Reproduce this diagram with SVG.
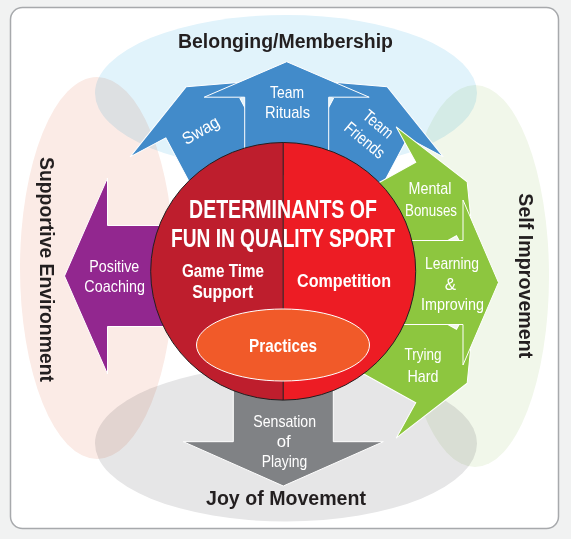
<svg xmlns="http://www.w3.org/2000/svg" xmlns:xlink="http://www.w3.org/1999/xlink" width="571" height="539" viewBox="0 0 571 539">
  <style>
    .bg-ell { mix-blend-mode: multiply; }
    .lbl { font-family: "Liberation Sans", Arial, sans-serif; font-weight: bold; font-size: 20px; fill: #231f20; text-anchor: middle; }
    .ttl { font-family: "Liberation Sans", Arial, sans-serif; font-weight: bold; font-size: 25px; fill: #ffffff; text-anchor: middle; }
    .sub { font-family: "Liberation Sans", Arial, sans-serif; font-weight: bold; font-size: 18px; fill: #ffffff; text-anchor: middle; }
    .arr { font-family: "Liberation Sans", Arial, sans-serif; font-size: 17px; fill: #ffffff; text-anchor: middle; }
    .wstroke { stroke: #ffffff; stroke-width: 1; }
  </style>
  <defs>
    <path id="arrowShape" d="M0,-214 L82.5,-178.5 L42,-178.5 L42,-100 L-42,-100 L-42,-178.5 L-82.5,-178.5 Z"/>
  </defs>

  <rect x="0" y="0" width="571" height="539" fill="#f1f2f2"/>
  <rect x="10.5" y="7.5" width="548" height="521" rx="12" ry="12" fill="#ffffff" stroke="#a7a9ac" stroke-width="1.5"/>

  <!-- background ellipses -->
  <g id="belonging">
    <ellipse class="bg-ell" cx="286" cy="93" rx="191" ry="78" fill="#e1f3fb"/>
  </g>
  <g id="supportive-environment">
    <ellipse class="bg-ell" cx="97" cy="268" rx="77" ry="191" fill="#fbebe6"/>
  </g>
  <g id="self-improvement">
    <ellipse class="bg-ell" cx="475" cy="276" rx="74" ry="191" fill="#f1f7ea"/>
  </g>
  <g id="joy-of-movement">
    <ellipse class="bg-ell" cx="286" cy="443.5" rx="191" ry="78" fill="#e6e6e7"/>
  </g>

  <g id="connectors"></g>

  <!-- blue arrows -->
  <g id="swag">
    <use xlink:href="#arrowShape" href="#arrowShape" transform="translate(286.7,275.7) rotate(-28)" fill="#428bca" class="wstroke"/>
    <text class="arr" transform="translate(201,131) rotate(-30)" y="5" textLength="40" lengthAdjust="spacingAndGlyphs">Swag</text>
  </g>
  <g id="team-friends">
    <use xlink:href="#arrowShape" href="#arrowShape" transform="translate(286.7,275.7) rotate(28)" fill="#428bca" class="wstroke"/>
    <g transform="translate(372,131.5) rotate(40)">
      <text class="arr" x="0" y="-4" textLength="34" lengthAdjust="spacingAndGlyphs">Team</text>
      <text class="arr" x="0" y="17" textLength="47" lengthAdjust="spacingAndGlyphs">Friends</text>
    </g>
  </g>
  <g id="team-rituals">
    <use xlink:href="#arrowShape" href="#arrowShape" transform="translate(286.7,275.7)" fill="#428bca" class="wstroke"/>
    <text class="arr" x="287" y="98" textLength="34" lengthAdjust="spacingAndGlyphs">Team</text>
    <text class="arr" x="287.5" y="118" textLength="45" lengthAdjust="spacingAndGlyphs">Rituals</text>
  </g>

  <!-- green arrows -->
  <g id="mental-bonuses">
    <use xlink:href="#arrowShape" href="#arrowShape" transform="translate(280,285.5) rotate(61)" fill="#8dc63f" class="wstroke"/>
    <text class="arr" x="430" y="194" textLength="43" lengthAdjust="spacingAndGlyphs">Mental</text>
    <text class="arr" x="431" y="215.5" textLength="52" lengthAdjust="spacingAndGlyphs">Bonuses</text>
  </g>
  <g id="trying-hard">
    <use xlink:href="#arrowShape" href="#arrowShape" transform="translate(280,279.5) rotate(119)" fill="#8dc63f" class="wstroke"/>
    <text class="arr" x="423" y="360" textLength="37" lengthAdjust="spacingAndGlyphs">Trying</text>
    <text class="arr" x="423" y="381.5" textLength="31" lengthAdjust="spacingAndGlyphs">Hard</text>
  </g>
  <g id="learning-improving">
    <use xlink:href="#arrowShape" href="#arrowShape" transform="translate(284.5,282.5) rotate(90)" fill="#8dc63f" class="wstroke"/>
    <text class="arr" x="452" y="269" textLength="54" lengthAdjust="spacingAndGlyphs">Learning</text>
    <text class="arr" x="450.5" y="290">&amp;</text>
    <text class="arr" x="452.5" y="309.5" textLength="63" lengthAdjust="spacingAndGlyphs">Improving</text>
  </g>

  <!-- purple arrow -->
  <g id="positive-coaching">
    <path d="M64.5,276 L107.5,178 L107.5,225.5 L200,225.5 L200,326.5 L107.5,326.5 L107.5,374 Z" fill="#92278f" class="wstroke"/>
    <text class="arr" x="114.3" y="271.7" textLength="50" lengthAdjust="spacingAndGlyphs">Positive</text>
    <text class="arr" x="114.7" y="291.7" textLength="60.7" lengthAdjust="spacingAndGlyphs">Coaching</text>
  </g>

  <!-- gray arrow -->
  <g id="sensation-of-playing">
    <path d="M283.3,486 L383.3,441.7 L333.3,441.7 L333.3,350 L233.3,350 L233.3,441.7 L183.3,441.7 Z" fill="#808285" class="wstroke"/>
    <text class="arr" x="284.7" y="426.7" textLength="62.7" lengthAdjust="spacingAndGlyphs">Sensation</text>
    <text class="arr" x="283.7" y="446.7" textLength="14" lengthAdjust="spacingAndGlyphs">of</text>
    <text class="arr" x="284.5" y="466.7" textLength="45.6" lengthAdjust="spacingAndGlyphs">Playing</text>
  </g>

  <!-- central circle -->
  <g id="determinants">
    <path d="M283.2,142.5 A132.5,128.8 0 0 0 283.2,400.1 Z" fill="#be1e2d"/>
    <path d="M283.2,142.5 A132.5,128.8 0 0 1 283.2,400.1 Z" fill="#ed1c24"/>
    <ellipse cx="283.2" cy="271.3" rx="132.5" ry="128.8" fill="none" stroke="#231f20" stroke-width="1"/>
    <line x1="283.2" y1="142.5" x2="283.2" y2="400.1" stroke="#231f20" stroke-width="1"/>
    <text class="ttl" transform="translate(283,218.3) scale(0.75,1)" textLength="250.7" lengthAdjust="spacingAndGlyphs">DETERMINANTS OF</text>
    <text class="ttl" transform="translate(283,246.5) scale(0.75,1)" textLength="298.7" lengthAdjust="spacingAndGlyphs">FUN IN QUALITY SPORT</text>
  </g>
  <g id="game-time-support">
    <text class="sub" x="223" y="276.5" textLength="82" lengthAdjust="spacingAndGlyphs">Game Time</text>
    <text class="sub" x="222.7" y="298.3" textLength="61" lengthAdjust="spacingAndGlyphs">Support</text>
  </g>
  <g id="competition">
    <text class="sub" x="344" y="287" textLength="94" lengthAdjust="spacingAndGlyphs">Competition</text>
  </g>
  <g id="practices">
    <ellipse cx="283" cy="345" rx="86.5" ry="36" fill="#f15a29" stroke="#ffffff" stroke-width="1"/>
    <text class="sub" x="283" y="352.3" style="font-size:19px" textLength="68" lengthAdjust="spacingAndGlyphs">Practices</text>
  </g>

  <!-- outer labels -->
  <g id="outer-labels">
    <text class="lbl" x="285.5" y="47.5" textLength="215" lengthAdjust="spacingAndGlyphs">Belonging/Membership</text>
    <text class="lbl" x="286" y="505" textLength="160" lengthAdjust="spacingAndGlyphs">Joy of Movement</text>
    <text class="lbl" transform="translate(40.3,269.5) rotate(90)" textLength="225" lengthAdjust="spacingAndGlyphs">Supportive Environment</text>
    <text class="lbl" transform="translate(519,275.8) rotate(90)" textLength="165" lengthAdjust="spacingAndGlyphs">Self Improvement</text>
  </g>
</svg>
